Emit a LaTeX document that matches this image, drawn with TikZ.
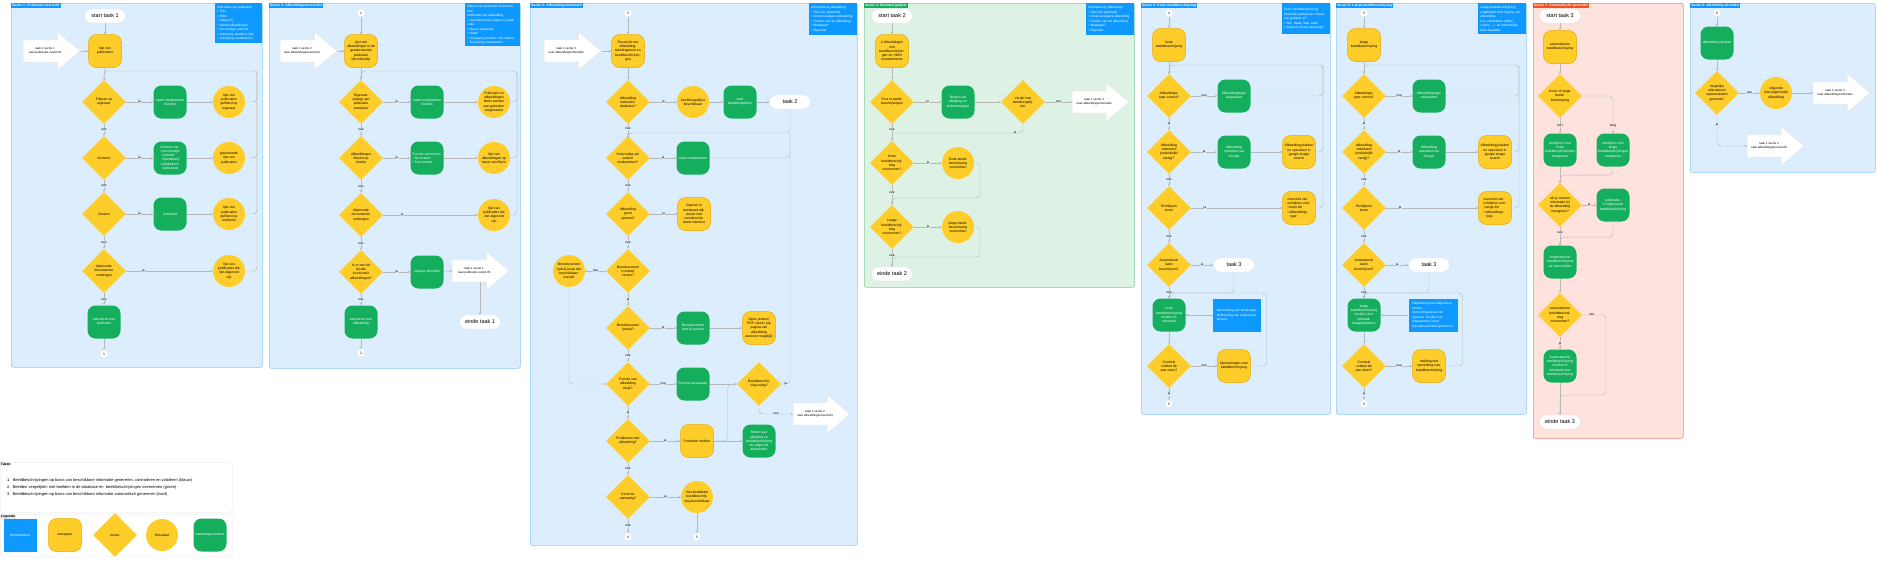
\documentclass[tikz,border=0pt]{standalone}
\usepackage{fontspec}
\setmainfont{Liberation Sans}
\usepackage{tikz}
\usetikzlibrary{arrows.meta,shapes,positioning}

\definecolor{blauwvlak}{HTML}{DCEEFD}
\definecolor{blauwrand}{HTML}{8CCBFA}
\definecolor{groenvlak}{HTML}{DDF2E5}
\definecolor{groenrand}{HTML}{7FCB9B}
\definecolor{roodvlak}{HTML}{FDE2DE}
\definecolor{roodrand}{HTML}{F28A76}
\definecolor{roodkop}{HTML}{F24E1E}
\definecolor{infoblauw}{HTML}{0D99FF}
\definecolor{geel}{HTML}{FFCD29}
\definecolor{geelrand}{HTML}{E8A900}
\definecolor{groen}{HTML}{14AE5C}
\definecolor{lijngrijs}{HTML}{B8B8B8}
\definecolor{kaderrand}{HTML}{E3E3E3}
\definecolor{kaartjegrijs}{HTML}{E8E8E8}

\newcommand{\minitekst}{\fontsize{3.4pt}{4.2pt}\selectfont}
\newcommand{\infotekst}{\fontsize{3.2pt}{4.5pt}\selectfont}
\newcommand{\koptekst}{\fontsize{3.4pt}{4pt}\selectfont\bfseries}
\newcommand{\labeltekst}{\fontsize{3.2pt}{3.6pt}\selectfont}
\newcommand{\terminaltekst}{\fontsize{5.5pt}{6pt}\selectfont}
\newcommand{\sprongtekst}{\fontsize{3pt}{4pt}\selectfont}
\newcommand{\legendatekst}{\fontsize{4pt}{7pt}\selectfont}

\begin{document}
\begin{tikzpicture}[x=1pt, y=-1pt]
    \tikzstyle{sectie} = [rectangle, draw=blauwrand, fill=blauwvlak, line width=0.6pt,
        rounded corners=2pt, anchor=north west, inner sep=0pt]
    \tikzstyle{kop} = [fill=infoblauw, text=white, font=\koptekst, inner sep=1pt, anchor=north west]
    \tikzstyle{info} = [fill=infoblauw, text=white, font=\infotekst, align=left,
        inner sep=2pt, anchor=north east]
    \tikzstyle{weergave} = [rectangle, rounded corners=8pt, draw=geelrand, line width=0.5pt,
        fill=geel, minimum size=33pt, inner sep=1pt, align=center, font=\minitekst]
    \tikzstyle{handeling} = [rectangle, rounded corners=8pt, fill=groen, text=white,
        minimum size=33pt, inner sep=1pt, align=center, font=\minitekst]
    \tikzstyle{keuze} = [diamond, fill=geel, minimum size=44pt, inner sep=0pt,
        align=center, font=\minitekst]
    \tikzstyle{resultaat} = [circle, fill=geel, minimum size=32pt, inner sep=0pt,
        align=center, font=\minitekst]
    \tikzstyle{terminal} = [rectangle, rounded corners=7pt, fill=white, draw=kaderrand,
        minimum width=41pt, minimum height=14pt, font=\terminaltekst]
    \tikzstyle{verwijzing} = [circle, fill=white, draw=kaderrand, minimum size=8pt,
        inner sep=0pt, font=\minitekst]
    \tikzstyle{sprong} = [single arrow, fill=white, draw=kaderrand, single arrow head extend=8pt,
        single arrow tip angle=80, minimum height=57pt, inner ysep=7.5pt, inner xsep=-4pt,
        align=center, font=\sprongtekst, anchor=tail]
    \tikzstyle{pijl} = [draw=lijngrijs, line width=0.45pt, -{Stealth[length=2.4pt,width=2.6pt]},
        rounded corners=4pt]
    \tikzstyle{lijn} = [draw=lijngrijs, line width=0.45pt, rounded corners=4pt]
    \tikzstyle{lbl} = [font=\labeltekst, fill=blauwvlak, inner sep=0.5pt]
    \tikzstyle{lblgroen} = [lbl, fill=groenvlak]
    \tikzstyle{lblrood} = [lbl, fill=roodvlak]
    \tikzstyle{kader} = [rectangle, fill=white, draw=kaderrand, rounded corners=2pt,
        anchor=north west, inner sep=0pt]
    \tikzstyle{kaartje} = [fill=kaartjegrijs, font=\koptekst, inner sep=0.8pt, anchor=north west]
    \tikzstyle{infoblok} = [rectangle, fill=infoblauw, text=white, minimum size=33pt,
        inner sep=1pt, align=center, font=\minitekst]

    \useasboundingbox (0,0) rectangle (1881,560);

    % sectie 1: publicatie-overzicht
    \node[sectie, minimum width=251pt, minimum height=364pt] (sec1) at (11,3) {};
    \node[kop] (kop1) at (sec1.north west) {Sectie 1: Publicatie-overzicht};
    \node[info, text width=43pt, minimum height=40pt] (info1) at (sec1.north east)
        {Informatie per publicatie:\\ \textbullet\ Titel\\ \textbullet\ ISBN\\ \textbullet\ Uitgeverij\\
         \textbullet\ Aantal afbeeldingen\\ \textbullet\ Percentage voltooid\\
         \textbullet\ Inlevering deadline (tijd)\\ \textbullet\ Toewijzing medewerker};

    \node[terminal] (start1) at (105,16) {start taak 1};
    \node[sprong] (sprong1) at (23,51) {taak 1 sectie 1\\naar publicatie-overzicht};
    \node[weergave] (lijst1) at (105,51) {lijst van\\publicaties};
    \node[keuze] (filter1) at (104,102) {Filteren op\\eigenaar};
    \node[handeling] (naam1) at (170,102) {naam medewerker\\invullen};
    \node[resultaat] (gefilterd1) at (229,102) {lijst van\\publicaties\\gefilterd op\\eigenaar};
    \node[keuze] (sorteer1) at (104,158) {Sorteren};
    \node[handeling, align=left] (sorteerop1) at (170,158)
        {Sorteren op:\\\textbullet\ percentage\\\ \ voltooid\\\ \ (standaard)\\\textbullet\ alfabetisch\\\ \ (optioneel)};
    \node[resultaat] (gesorteerd1) at (229,158) {gesorteerde\\lijst van\\publicaties};
    \node[keuze] (zoek1) at (104,214) {Zoeken};
    \node[handeling] (zoekveld1) at (170,214) {Zoekveld};
    \node[resultaat] (gezocht1) at (229,214) {lijst van\\publicaties\\gefilterd op\\zoekterm};
    \node[keuze] (verberg1) at (104,271) {Afgeronde\\documenten\\verbergen};
    \node[resultaat] (open1) at (229,271) {lijst van\\publicaties die\\niet afgerond\\zijn};
    \node[handeling] (kies1) at (104,322) {selecteren een\\publicatie};
    \node[verwijzing] (naar1) at (104,354) {1};
    \coordinate (lus1) at (257,71);

    \draw[pijl] (start1) -- (lijst1);
    \draw[pijl] (sprong1.tip) -- (lijst1);
    \draw[pijl] (lijst1) -- (filter1);
    \draw[pijl] (filter1) -- node[lbl]{ja} (naam1);
    \draw[pijl] (naam1) -- (gefilterd1);
    \draw[pijl] (filter1) -- node[lbl]{nee} (sorteer1);
    \draw[pijl] (sorteer1) -- node[lbl]{ja} (sorteerop1);
    \draw[pijl] (sorteerop1) -- (gesorteerd1);
    \draw[pijl] (sorteer1) -- node[lbl]{nee} (zoek1);
    \draw[pijl] (zoek1) -- node[lbl]{ja} (zoekveld1);
    \draw[pijl] (zoekveld1) -- (gezocht1);
    \draw[pijl] (zoek1) -- node[lbl]{nee} (verberg1);
    \draw[pijl] (verberg1) -- node[lbl, pos=0.2]{ja} (open1);
    \draw[pijl] (verberg1) -- node[lbl]{nee} (kies1);
    \draw[pijl] (kies1) -- (naar1);
    \draw[pijl] (open1.east) -| (lus1) -| (filter1.north);
    \draw[lijn] (gefilterd1.east) -| (lus1);
    \draw[lijn] (gesorteerd1.east) -| (lus1);
    \draw[lijn] (gezocht1.east) -| (lus1);

    % sectie 2: afbeeldingenoverzicht
    \node[sectie, minimum width=251pt, minimum height=365pt] (sec2) at (269,3) {};
    \node[kop] (kop2) at (sec2.north west) {Sectie 2: Afbeeldingenoverzicht};
    \node[info, text width=51pt, minimum height=37pt] (info2) at (sec2.north east)
        {Opties van publicatie bovenaan, dan\\informatie per afbeelding:\\
         \textbullet\ Gesorteerd per pagina in publicatie\\ \textbullet\ Kleine weergave\\
         \textbullet\ Naam\\ \textbullet\ Voortgang (functie + bb-status)\\ \textbullet\ Toewijzing medewerker};

    \node[verwijzing] (van1) at (361,13) {1};
    \node[sprong] (sprong2) at (280,51) {taak 1 sectie 2\\naar afbeeldingenoverzicht};
    \node[weergave] (lijst2) at (361,51) {Lijst van\\afbeeldingen in de\\geselecteerde\\publicatie\\(thumbnails)};
    \node[keuze] (eigenaar2) at (361,102) {Eigenaar\\(wijzig) van\\publicatie\\toewijzen};
    \node[handeling] (naam2) at (427,102) {naam medewerker\\invullen};
    \node[resultaat] (toegewezen2) at (494,102) {Publicatie en\\afbeeldingen\\hierin worden\\aan gebruiker\\toegewezen};
    \node[keuze] (functie2) at (361,158) {Afbeeldingen\\filteren op\\functie};
    \node[handeling, align=left] (functiekeuze2) at (427,158)
        {Functie selecteren:\\\textbullet\ Decoratief\\\textbullet\ Functioneel};
    \node[resultaat] (gefilterd2) at (494,158) {lijst van\\afbeeldingen op\\basis van filters};
    \node[keuze] (verberg2) at (361,215) {Afgeronde\\documenten\\verbergen};
    \node[resultaat] (open2) at (494,215) {lijst van\\publicaties die\\niet afgerond\\zijn};
    \node[keuze] (compleet2) at (361,272) {Is er een bb\\bij alle\\functionele\\afbeeldingen?};
    \node[handeling] (afronden2) at (427,272) {Uitgave afronden};
    \node[sprong] (sprong2b) at (452,271) {taak 1 sectie 1\\naar publicatie-overzicht};
    \node[terminal] (einde1) at (480,322) {einde taak 1};
    \node[handeling] (kies2) at (361,322) {selecteren een\\afbeelding};
    \node[verwijzing] (naar2) at (361,353) {2};
    \coordinate (lus2) at (517,71);

    \draw[pijl] (van1) -- (lijst2);
    \draw[pijl] (sprong2.tip) -- (lijst2);
    \draw[pijl] (lijst2) -- (eigenaar2);
    \draw[pijl] (eigenaar2) -- node[lbl]{ja} (naam2);
    \draw[pijl] (naam2) -- (toegewezen2);
    \draw[pijl] (eigenaar2) -- node[lbl]{nee} (functie2);
    \draw[pijl] (functie2) -- node[lbl]{ja} (functiekeuze2);
    \draw[pijl] (functiekeuze2) -- (gefilterd2);
    \draw[pijl] (functie2) -- node[lbl]{nee} (verberg2);
    \draw[pijl] (verberg2) -- node[lbl, pos=0.2]{ja} (open2);
    \draw[pijl] (verberg2) -- node[lbl]{nee} (compleet2);
    \draw[pijl] (compleet2) -- node[lbl]{ja} (afronden2);
    \draw[pijl] (afronden2) -- (sprong2b.tail);
    \draw[pijl] (sprong2b.south -| einde1.north) -- (einde1);
    \draw[pijl] (compleet2) -- node[lbl]{nee} (kies2);
    \draw[pijl] (kies2) -- (naar2);
    \draw[pijl] (open2.east) -| (lus2) -| (eigenaar2.north);
    \draw[lijn] (toegewezen2.east) -| (lus2);
    \draw[lijn] (gefilterd2.east) -| (lus2);

    % sectie 3: afbeeldingsinformatie
    \node[sectie, minimum width=327pt, minimum height=542pt] (sec3) at (530,3) {};
    \node[kop] (kop3) at (sec3.north west) {Sectie 3: Afbeeldingsinformatie};
    \node[info, text width=44pt, minimum height=32pt] (info3) at (sec3.north east)
        {Informatie bij afbeelding:\\ \textbullet\ Titel van publicatie\\ \textbullet\ Grote weergave afbeelding\\
         \textbullet\ Functie van de afbeelding\\ \textbullet\ Metadata?\\ \textbullet\ Eigenaar};

    \node[verwijzing] (van2) at (628,13) {2};
    \node[sprong] (sprong3) at (544,51) {taak 1 sectie 3\\naar afbeeldingsinformatie};
    \node[weergave] (over3) at (628,51) {Overzicht van\\afbeelding,\\tekstfragment en\\beeldbeschrijvin-\\gen};
    \node[keuze] (bekend3) at (628,102) {Afbeelding\\bekend in\\database?};
    \node[resultaat] (vergelijker3) at (693,102) {beeldvergelijker\\beschikbaar};
    \node[handeling] (startvgl3) at (740,102) {start\\beeldvergelijker};
    \node[terminal] (taak2) at (790,102) {taak 2};
    \node[keuze] (hulp3) at (628,158) {Hulp nodig van\\andere\\medewerker?};
    \node[handeling] (naam3) at (693,158) {naam medewerker};
    \node[keuze] (groot3) at (628,214) {Afbeelding\\groot\\openen?};
    \node[weergave] (openen3) at (694,214) {Openen in\\standaard afb-\\viewer met\\zoomfunctie,\\naast interface};
    \node[keuze] (context3) at (628,271) {Brondocument\\(context)\\vereist?};
    \node[resultaat] (knop3) at (569,271) {Brondocument\\(extra) knop niet\\beschikbaar/\\inactief};
    \node[keuze] (extra3) at (628,328) {Brondocument\\(extra)?};
    \node[handeling] (extraopen3) at (693,328) {Brondocument\\(extra) openen};
    \node[weergave] (pdf3) at (759,328) {Open (extern)\\PDF-viewer (op\\pagina van\\afbeelding\\wanneer mogelijk)};
    \node[keuze] (functie3) at (628,384) {Functie van\\afbeelding\\klopt?};
    \node[handeling] (aanpassen3) at (693,384) {Functie aanpassen};
    \node[keuze] (bbnodig3) at (759,384) {Beeldbeschrij-\\ving nodig?};
    \node[sprong] (sprong3b) at (793,414) {taak 1 sectie 2\\naar afbeeldingenoverzicht};
    \node[keuze] (probleem3) at (628,441) {Problemen met\\afbeelding?};
    \node[weergave] (melden3) at (697,441) {Probleem melden};
    \node[handeling] (reden3) at (759,441) {Reden van\\afwijking en\\beeldbeschrijving\\als afgerond\\aanmerken};
    \node[keuze] (korte3) at (628,497) {Korte bb\\aanwezig?};
    \node[resultaat] (voorbeeld3) at (697,497) {Voorbeeldtekst\\beeldbeschrij-\\ving beschikbaar};
    \node[verwijzing] (naar4) at (628,537) {4};
    \node[verwijzing] (naar5) at (697,537) {5};
    \coordinate (lus3) at (790,133);

    \draw[pijl] (van2) -- (over3);
    \draw[pijl] (sprong3.tip) -- (over3);
    \draw[pijl] (over3) -- (bekend3);
    \draw[pijl] (bekend3) -- node[lbl]{ja} (vergelijker3);
    \draw[pijl] (vergelijker3) -- (startvgl3);
    \draw[pijl] (startvgl3) -- (taak2);
    \draw[pijl] (bekend3) -- node[lbl, pos=0.4]{nee} (hulp3);
    \draw[pijl] (taak2.south) -- (lus3) -| (hulp3.north);
    \draw[pijl] (hulp3) -- node[lbl]{ja} (naam3);
    \draw[lijn] (naam3.east) -| (lus3);
    \draw[pijl] (hulp3) -- node[lbl]{nee} (groot3);
    \draw[pijl] (groot3) -- node[lbl]{ja} (openen3);
    \draw[pijl] (groot3) -- node[lbl]{nee} (context3);
    \draw[pijl] (context3) -- node[lbl]{nee} (knop3);
    \draw[pijl] (context3) -- node[lbl]{ja} (extra3);
    \draw[pijl] (knop3.south) |- (functie3.west);
    \draw[pijl] (extra3) -- node[lbl]{ja} (extraopen3);
    \draw[pijl] (extraopen3) -- (pdf3);
    \draw[pijl] (extra3) -- node[lbl]{nee} (functie3);
    \draw[pijl] (functie3) -- node[lbl]{nee} (aanpassen3);
    \draw[pijl] (aanpassen3) -- (bbnodig3);
    \draw[lijn] (bbnodig3.east) -| node[lbl, pos=0.25]{ja} (lus3);
    \draw[pijl] (bbnodig3.south) |- node[lbl, pos=0.75]{nee} (sprong3b.tail);
    \draw[pijl] (functie3) -- node[lbl]{ja} (probleem3);
    \draw[pijl] (probleem3) -- node[lbl]{ja} (melden3);
    \draw[pijl] (melden3) -- (reden3);
    \draw[pijl] (melden3.east) -- ++(14pt,0) |- (bbnodig3.west);
    \draw[pijl] (probleem3) -- node[lbl]{nee} (korte3);
    \draw[pijl] (korte3) -- node[lbl]{ja} (voorbeeld3);
    \draw[pijl] (voorbeeld3) -- (naar5);
    \draw[pijl] (korte3) -- node[lbl]{nee} (naar4);

    % sectie 4: beeldvergelijker
    \node[sectie, draw=groenrand, fill=groenvlak, minimum width=270pt, minimum height=284pt] (sec4) at (864,3) {};
    \node[kop, fill=groen] (kop4) at (sec4.north west) {Sectie 4: Beeldvergelijker};
    \node[info, text width=44pt, minimum height=32pt] (info4) at (sec4.north east)
        {Informatie bij afbeelding:\\ \textbullet\ Titel van publicatie\\ \textbullet\ Grote weergave afbeelding\\
         \textbullet\ Functie van de afbeelding\\ \textbullet\ Metadata?\\ \textbullet\ Eigenaar};

    \node[terminal] (start2) at (892,16) {start taak 2};
    \node[weergave] (paren4) at (892,51) {2 afbeeldingen\\met\\beeldbeschrijvin-\\gen en >90\%\\overeenkomst};
    \node[keuze] (fout4) at (892,102) {Fout in beeld-\\beschrijvingen};
    \node[handeling] (reden4) at (958,102) {Reden van\\afwijking en\\probleemtypen};
    \node[keuze] (verder4) at (1023,102) {Verder met\\beeldvergelij-\\ker};
    \node[sprong] (sprong4) at (1072,102) {taak 1 sectie 3\\naar afbeeldingsinformatie};
    \node[keuze] (korteq4) at (892,163) {Korte\\beeldbeschrij-\\ving\\overnemen?};
    \node[resultaat] (korte4) at (958,163) {Korte beeld-\\beschrijving\\overnemen};
    \node[keuze] (langeq4) at (892,227) {Lange\\beeldbeschrij-\\ving\\overnemen?};
    \node[resultaat] (lange4) at (958,227) {lange beeld-\\beschrijving\\overnemen};
    \node[terminal] (einde2) at (892,274) {einde taak 2};
    \coordinate (samen4) at (892,133);
    \coordinate (terug4a) at (980,198);
    \coordinate (terug4b) at (980,257);

    \draw[pijl] (start2) -- (paren4);
    \draw[pijl] (paren4) -- (fout4);
    \draw[pijl] (fout4) -- node[lblgroen]{ja} (reden4);
    \draw[pijl] (reden4) -- (verder4);
    \draw[pijl] (verder4) -- node[lblgroen]{nee} (sprong4.tail);
    \draw[pijl] (fout4) -- node[lblgroen, pos=0.3]{nee} (korteq4);
    \draw[lijn] (verder4.south) |- node[lblgroen, pos=0.53]{ja} (samen4);
    \draw[pijl] (korteq4) -- node[lblgroen]{ja} (korte4);
    \draw[pijl] (korte4.east) -| (terug4a) -| (langeq4.north);
    \draw[pijl] (korteq4) -- node[lblgroen, pos=0.4]{nee} (langeq4);
    \draw[pijl] (langeq4) -- node[lblgroen]{ja} (lange4);
    \draw[pijl] (lange4.east) -| (terug4b) -| (einde2.north);
    \draw[pijl] (langeq4) -- node[lblgroen, pos=0.35]{nee} (einde2);

    % sectie 5: korte beeldbeschrijving
    \node[sectie, minimum width=189pt, minimum height=411pt] (sec5) at (1141,3) {};
    \node[kop] (kop5) at (sec5.north west) {Sectie 5: Korte beeldbeschrijving};
    \node[info, text width=44pt, minimum height=31pt] (info5) at (sec5.north east)
        {Korte beeldbeschrijving:\\beschrijft globaal de inhoud,\\wat gebeurt er?\\
         \textbullet\ Wie, Waar, Wat, Actie\\ \textbullet\ Waarom (doel) aanwezig?};

    \node[verwijzing] (van4) at (1169,13) {4};
    \node[weergave] (korte5) at (1169,45) {korte\\beeldbeschrijving};
    \node[keuze] (type5) at (1169,96) {Afbeeldings-\\type correct?};
    \node[handeling] (typeaan5) at (1234,96) {Afbeeldingstype\\aanpassen};
    \node[keuze] (onbekend5) at (1169,152) {Afbeelding\\onbekend\\(onduidelijk/\\lastig)?};
    \node[handeling] (google5) at (1234,152) {Afbeelding\\opzoeken via\\Google};
    \node[weergave] (plakken5) at (1299,152) {Afbeelding plakken\\en opzoeken in\\google image\\search};
    \node[keuze] (richtlijn5) at (1169,208) {Richtlijnen\\tonen};
    \node[weergave, align=left] (overzicht5) at (1299,208)
        {overzicht van\\richtlijnen voor:\\\textbullet\ korte bb\\\textbullet\ afbeeldings-\\\ \ \ type};
    \node[keuze] (auto5) at (1169,265) {Automatisch\\laten\\beschrijven?};
    \node[terminal] (taak3a) at (1234,265) {taak 3};
    \node[handeling] (invullen5) at (1169,315) {korte\\beeldbeschrijving\\invullen in\\tekstveld};
    \node[infoblok, minimum width=48pt, align=left, font=\infotekst] (toets5) at (1237,315)
        {Beoordeling van tekstlengte.\\Herkenning van subjectieve\\termen.};
    \node[keuze] (controle5) at (1169,366) {Controle\\voldoet bb\\aan eisen?};
    \node[weergave] (opmerking5) at (1234,366) {Opmerkingen over\\beeldbeschrijving};
    \node[verwijzing] (naar5b) at (1169,404) {5};
    \coordinate (lus5) at (1323,65);
    \coordinate (terug5) at (1169,293);

    \draw[pijl] (van4) -- (korte5);
    \draw[pijl] (korte5) -- (type5);
    \draw[pijl] (type5) -- node[lbl]{nee} (typeaan5);
    \draw[pijl] (typeaan5.east) -| (lus5) -| (type5.north);
    \draw[pijl] (type5) -- node[lbl]{ja} (onbekend5);
    \draw[pijl] (onbekend5) -- node[lbl]{ja} (google5);
    \draw[pijl] (google5) -- (plakken5);
    \draw[lijn] (plakken5.east) -| (lus5);
    \draw[pijl] (onbekend5) -- node[lbl]{nee} (richtlijn5);
    \draw[pijl] (richtlijn5) -- node[lbl, pos=0.15]{ja} (overzicht5);
    \draw[lijn] (overzicht5.east) -| (lus5);
    \draw[pijl] (richtlijn5) -- node[lbl]{nee} (auto5);
    \draw[pijl] (auto5) -- node[lbl]{ja} (taak3a);
    \draw[pijl] (auto5) -- node[lbl, pos=0.45]{nee} (invullen5);
    \draw[lijn] (taak3a.south) |- (terug5);
    \draw[pijl] (toets5) -- (invullen5);
    \draw[pijl] (invullen5) -- (controle5);
    \draw[pijl] (controle5) -- node[lbl]{nee} (opmerking5);
    \draw[pijl] (opmerking5.east) -- ++(16pt,0) |- (terug5) -- (invullen5.north);
    \draw[pijl] (controle5) -- node[lbl]{ja} (naar5b);

    % sectie 6: lange beeldbeschrijving
    \node[sectie, minimum width=190pt, minimum height=411pt] (sec6) at (1336,3) {};
    \node[kop] (kop6) at (sec6.north west) {Sectie 6: Lange beeldbeschrijving};
    \node[info, text width=44pt, minimum height=31pt] (info6) at (sec6.north east)
        {Lange beeldbeschrijving:\\uitgebreide beschrijving van\\afbeelding.\\Kan onderdelen (tijden,\\cirkels, ...) en inhoudelijke\\tekst bevatten.};

    \node[verwijzing] (van5) at (1364,13) {5};
    \node[weergave] (lange6) at (1364,45) {lange\\beeldbeschrijving};
    \node[keuze] (type6) at (1364,96) {Afbeeldings-\\type correct?};
    \node[handeling] (typeaan6) at (1429,96) {Afbeeldingstype\\aanpassen};
    \node[keuze] (onbekend6) at (1364,152) {Afbeelding\\onbekend\\(onduidelijk/\\lastig)?};
    \node[handeling] (google6) at (1429,152) {Afbeelding\\opzoeken via\\Google};
    \node[weergave] (plakken6) at (1495,152) {Afbeelding plakken\\en opzoeken in\\google image\\search};
    \node[keuze] (richtlijn6) at (1364,208) {Richtlijnen\\tonen};
    \node[weergave, align=left] (overzicht6) at (1495,208)
        {overzicht van\\richtlijnen voor:\\\textbullet\ lange bb\\\textbullet\ afbeeldings-\\\ \ \ type};
    \node[keuze] (auto6) at (1364,265) {Automatisch\\laten\\beschrijven?};
    \node[terminal] (taak3b) at (1429,265) {taak 3};
    \node[handeling] (invullen6) at (1364,315) {lange\\beeldbeschrijving\\invullen (incl.\\opmaak-\\mogelijkheden)};
    \node[infoblok, minimum width=49pt, align=left, font=\infotekst] (toets6) at (1433,315)
        {Herkenning van subjectieve\\termen.\\Overzicht gebruik van\\opmaak. Invullen van\\diagrammen (voor)\\bijvoorbeeld tabel genereren.};
    \node[keuze] (controle6) at (1364,366) {Controle\\voldoet bb\\aan eisen?};
    \node[weergave] (opmerking6) at (1429,366) {melding met\\opmerking over\\beeldbeschrijving};
    \node[verwijzing] (naar6) at (1364,404) {6};
    \coordinate (lus6) at (1519,65);
    \coordinate (terug6) at (1364,293);

    \draw[pijl] (van5) -- (lange6);
    \draw[pijl] (lange6) -- (type6);
    \draw[pijl] (type6) -- node[lbl]{nee} (typeaan6);
    \draw[pijl] (typeaan6.east) -| (lus6) -| (type6.north);
    \draw[pijl] (type6) -- node[lbl]{ja} (onbekend6);
    \draw[pijl] (onbekend6) -- node[lbl]{ja} (google6);
    \draw[pijl] (google6) -- (plakken6);
    \draw[lijn] (plakken6.east) -| (lus6);
    \draw[pijl] (onbekend6) -- node[lbl]{nee} (richtlijn6);
    \draw[pijl] (richtlijn6) -- node[lbl, pos=0.15]{ja} (overzicht6);
    \draw[lijn] (overzicht6.east) -| (lus6);
    \draw[pijl] (richtlijn6) -- node[lbl]{nee} (auto6);
    \draw[pijl] (auto6) -- node[lbl]{ja} (taak3b);
    \draw[pijl] (auto6) -- node[lbl, pos=0.45]{nee} (invullen6);
    \draw[lijn] (taak3b.south) |- (terug6);
    \draw[pijl] (toets6) -- (invullen6);
    \draw[pijl] (invullen6) -- (controle6);
    \draw[pijl] (controle6) -- node[lbl]{nee} (opmerking6);
    \draw[pijl] (opmerking6.east) -- ++(17pt,0) |- (terug6) -- (invullen6.north);
    \draw[pijl] (controle6) -- node[lbl]{ja} (naar6);

    % sectie 7: automatische generatie
    \node[sectie, draw=roodrand, fill=roodvlak, minimum width=150pt, minimum height=435pt] (sec7) at (1533,3) {};
    \node[kop, fill=roodkop] (kop7) at (sec7.north west) {Sectie 7: Automatische generatie};

    \node[terminal] (start3) at (1560,16) {start taak 3};
    \node[weergave] (auto7) at (1560,47) {automatische\\beeldbeschrijving};
    \node[keuze] (lengte7) at (1560,96) {Korte of lange\\beeld-\\beschrijving};
    \node[handeling] (kort7) at (1560,150) {richtlijnen voor\\korte\\beeldbeschrijvingen\\meegeven};
    \node[handeling] (lang7) at (1613,150) {richtlijnen voor\\lange\\beeldbeschrijvingen\\meegeven};
    \node[keuze] (context7) at (1560,205) {wil je context\\informatie bij\\de afbeelding\\meegeven?};
    \node[handeling] (publ7) at (1613,205) {publicatie-\\of ingevoerde\\beeldbeschrijving};
    \node[handeling] (opstel7) at (1560,262) {Automatische\\beeldbeschrijving\\op laten stellen};
    \node[keuze] (overnemen7) at (1560,315) {automatische\\beeldbeschrij-\\ving\\overnemen?};
    \node[handeling] (invul7) at (1560,366) {Automatische\\beeldbeschrijving\\invullen in\\tekstveld voor\\beeldbeschrijving};
    \node[terminal] (einde3) at (1560,422) {einde taak 3};
    \coordinate (terug7) at (1606,395);

    \draw[pijl] (start3) -- (auto7);
    \draw[pijl] (auto7) -- (lengte7);
    \draw[pijl] (lengte7) -- node[lblrood]{kort} (kort7);
    \draw[pijl] (lengte7.east) -| node[lblrood, pos=0.9]{lang} (lang7.north);
    \draw[pijl] (kort7) -- (context7);
    \draw[pijl] (lang7.south) -- ++(0,-8.5pt) -| (context7.north);
    \draw[pijl] (context7) -- node[lblrood]{ja} (publ7);
    \draw[pijl] (publ7.south) -- ++(0,-15.5pt) -| (opstel7.north);
    \draw[pijl] (context7) -- node[lblrood, pos=0.3]{nee} (opstel7);
    \draw[pijl] (opstel7) -- (overnemen7);
    \draw[pijl] (overnemen7.east) -| node[lblrood, pos=0.2]{nee} (terug7) -| (einde3.north);
    \draw[pijl] (overnemen7) -- node[lblrood]{ja} (invul7);
    \draw[pijl] (invul7) -- (einde3);

    % sectie 8: afbeelding afronden
    \node[sectie, minimum width=185pt, minimum height=169pt] (sec8) at (1690,3) {};
    \node[kop] (kop8) at (sec8.north west) {Sectie 8: afbeelding afronden};

    \node[verwijzing] (van6) at (1717,13) {6};
    \node[handeling] (opslaan8) at (1717,43) {afbeelding opslaan};
    \node[keuze] (alternatief8) at (1717,93) {mogelijke\\alternatieve\\representaties\\gewenst?};
    \node[resultaat] (volgende8) at (1776,93) {volgende\\(niet-afgeronde)\\afbeelding};
    \node[sprong] (sprong8a) at (1813,93) {taak 1 sectie 3\\naar afbeeldingsinformatie};
    \node[sprong] (sprong8b) at (1747,146) {taak 1 sectie 2\\naar afbeeldingenoverzicht};

    \draw[pijl] (van6) -- (opslaan8);
    \draw[pijl] (opslaan8) -- (alternatief8);
    \draw[pijl] (alternatief8) -- node[lbl]{nee} (volgende8);
    \draw[pijl] (volgende8) -- (sprong8a.tail);
    \draw[pijl] (alternatief8.south) |- node[lbl, pos=0.15]{ja} (sprong8b.tail);

    % taken en legenda
    \node[kader, minimum width=232pt, minimum height=50pt] (taken) at (0,462) {};
    \node[kaartje] (takenkop) at (taken.north west) {Taken};
    \node[anchor=north west, font=\legendatekst, align=left, inner sep=0pt] (takenlijst) at (7,478)
        {1.\ \ Beeldbeschrijvingen op basis van beschikbare informatie genereren, controleren en valideren (blauw)\\
         2.\ \ Beelden vergelijken met beelden in de database en\ \ beeldbeschrijvingen overnemen (groen)\\
         3.\ \ Beeldbeschrijvingen op basis van beschikbare informatie automatisch genereren (rood)};

    \node[kader, minimum width=232pt, minimum height=42pt] (legenda) at (0,514) {};
    \node[kaartje] (legendakop) at (legenda.north west) {Legenda};
    \node[infoblok] (leg1) at (20,535) {informatiebox};
    \node[weergave] (leg2) at (65,535) {weergave};
    \node[keuze] (leg3) at (115,535) {keuze};
    \node[resultaat] (leg4) at (162,535) {Resultaat};
    \node[handeling] (leg5) at (210,535) {handelingsmoment};
\end{tikzpicture}
\end{document}
